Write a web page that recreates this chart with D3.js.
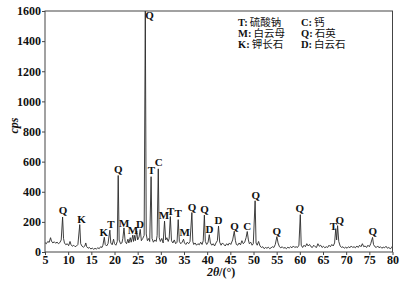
<!DOCTYPE html>
<html>
<head>
<meta charset="utf-8">
<script src="https://cdn.jsdelivr.net/npm/d3@7"></script>
<style>
  html, body { margin: 0; padding: 0; background: #fff; }
  svg { display: block; }
</style>
</head>
<body>
<script>
// XRD pattern
const twoTheta = [5.0,5.3,5.6,5.9,6.2,6.4,6.7,7.0,7.3,7.6,7.9,8.2,8.5,8.8,9.0,9.2,9.5,9.8,10.1,10.4,10.6,10.9,11.2,11.5,11.8,12.1,12.5,12.7,13.0,13.3,13.6,13.8,14.0,14.3,14.6,14.9,15.2,15.5,15.8,16.1,16.4,16.7,17.0,17.3,17.5,17.8,18.0,18.3,18.6,19.0,19.2,19.5,19.8,20.0,20.3,20.6,20.8,21.0,21.3,21.6,21.8,22.05,22.3,22.6,22.9,23.1,23.4,23.6,23.95,24.1,24.3,24.5,24.8,25.0,25.3,25.55,25.8,26.1,26.4,26.65,26.85,27.1,27.4,27.6,27.9,28.1,28.4,28.7,29.0,29.2,29.45,29.65,29.9,30.2,30.5,30.8,31.05,31.3,31.6,31.8,32.05,32.3,32.6,32.9,33.2,33.5,33.75,34.0,34.3,34.6,34.9,35.1,35.4,35.7,36.0,36.3,36.7,36.9,37.1,37.4,37.7,38.0,38.3,38.6,38.9,39.15,39.4,39.6,39.9,40.2,40.45,40.7,41.0,41.3,41.6,41.9,42.2,42.45,42.7,43.0,43.3,43.6,43.9,44.2,44.5,44.8,45.1,45.5,45.85,46.1,46.3,46.6,46.9,47.2,47.5,47.8,48.1,48.4,48.65,48.9,49.1,49.4,49.7,49.95,50.35,50.55,50.8,51.1,51.4,51.7,52.0,52.3,52.6,52.9,53.2,53.5,53.8,54.1,54.4,54.7,55.05,55.3,55.6,55.9,56.2,56.5,56.8,57.1,57.4,57.7,58.0,58.3,58.6,58.9,59.2,59.5,59.8,60.1,60.3,60.6,60.9,61.2,61.5,61.8,62.1,62.4,62.7,63.0,63.3,63.6,63.9,64.2,64.5,64.8,65.1,65.4,65.7,66.0,66.3,66.6,66.9,67.2,67.5,67.75,67.95,68.15,68.4,68.7,69.0,69.3,69.6,69.9,70.2,70.5,70.8,71.1,71.4,71.7,72.0,72.3,72.6,72.9,73.2,73.5,73.8,74.1,74.4,74.7,75.0,75.3,75.7,75.9,76.2,76.5,76.8,77.1,77.4,77.7,78.0,78.3,78.6,78.9,79.2,79.5,79.8,80.0];
const cps = [62,55,70,64,95,72,60,68,58,66,55,62,80,232,90,60,48,55,42,70,50,38,45,35,40,50,182,55,38,32,40,60,35,25,30,20,26,18,24,20,28,22,35,30,45,98,50,40,55,145,60,48,85,55,45,70,508,80,55,60,90,160,70,55,85,60,95,65,112,70,110,75,140,80,100,150,75,90,110,1600,120,75,90,70,500,90,65,80,70,110,552,95,70,90,60,205,80,95,70,90,235,75,60,80,55,65,215,70,55,65,85,60,50,65,55,70,262,70,50,60,45,55,48,65,50,75,245,70,50,65,115,60,45,55,40,60,75,172,65,45,60,50,40,55,45,60,50,80,138,75,50,45,60,48,75,55,65,95,136,80,55,65,45,55,340,60,45,70,40,30,35,22,30,25,32,22,28,35,30,50,102,60,35,28,35,25,30,22,32,26,35,28,40,30,35,30,45,248,45,30,45,35,55,40,50,35,30,45,35,30,55,38,45,30,38,28,35,30,45,35,50,40,60,155,80,175,70,40,30,35,25,32,25,35,28,40,30,35,28,40,30,45,35,55,35,40,30,45,35,55,97,50,35,30,40,28,35,25,32,28,38,25,30,22,28,40];

// peak labels: phase letter, label centre (2θ), label baseline (cps)
const peakLetters = ['Q','K','K','T','Q','M','M','D','Q','T','C','M','T','T','M','Q','Q','D','D','Q','C','Q','Q','Q','T','Q','Q'];
const peakAt      = [8.9,12.9,17.7,19.25,20.8,22.1,24.0,25.5,27.55,27.95,29.55,30.65,32.15,33.75,35.15,36.75,39.45,40.5,42.45,45.9,48.65,50.5,55.05,60.0,67.25,68.6,75.75];
const peakLabelY  = [250,193,106,158,525,168,118,159,1545,518,572,219,246,232,103,272,256,126,186,149,148,352,116,266,143,189,110];

// legend
const legendKeys  = ['T:','C:','M:','Q:','K:','D:'];
const legendNames = ['硫酸钠','钙','白云母','石英','钾长石','白云石'];

const xTicks = [5,10,15,20,25,30,35,40,45,50,55,60,65,70,75,80];
const yTicks = [0,200,400,600,800,1000,1200,1400,1600];

const width = 417, height = 283;
const margin = {top: 11, right: 24.5, bottom: 31, left: 45};
const visWidth = width - margin.left - margin.right;
const visHeight = height - margin.top - margin.bottom;

const serif = "'Liberation Serif', 'Times New Roman', serif";
const cjk = "'Noto Sans CJK SC', sans-serif";

const svg = d3.select('body').append('svg')
  .attr('width', width)
  .attr('height', height);

const x = d3.scaleLinear().domain([5, 80]).range([0, visWidth]);
const y = d3.scaleLinear().domain([0, 1600]).range([visHeight, 0]);

const g = svg.append('g')
  .attr('transform', `translate(${margin.left}, ${margin.top})`);

g.append('clipPath').attr('id', 'plotclip')
  .append('rect').attr('width', visWidth).attr('height', visHeight);

// the pattern line
const pts = twoTheta.map((t, i) => [t, cps[i]]);
g.append('path')
  .datum(pts)
  .attr('clip-path', 'url(#plotclip)')
  .attr('fill', 'none')
  .attr('stroke', '#2a2a2a')
  .attr('stroke-width', 0.9)
  .attr('stroke-linejoin', 'round')
  .attr('d', d3.line().x(d => x(d[0])).y(d => y(d[1])));

// frame
g.append('rect')
  .attr('width', visWidth)
  .attr('height', visHeight)
  .attr('fill', 'none')
  .attr('stroke', '#444')
  .attr('stroke-width', 1);

// axes
const xAxis = d3.axisBottom(x).tickValues(xTicks).tickSize(3).tickPadding(0).tickFormat(d3.format('d'));
const yAxis = d3.axisLeft(y).tickValues(yTicks).tickSize(3).tickPadding(1).tickFormat(d3.format('d'));

g.append('g')
  .attr('transform', `translate(0, ${visHeight})`)
  .call(xAxis)
  .call(a => a.select('.domain').remove())
  .call(a => a.selectAll('line').attr('stroke', '#444'))
  .call(a => a.selectAll('text')
    .attr('font-family', serif).attr('font-weight', 'bold')
    .attr('font-size', 12).attr('fill', '#111'));

g.append('g')
  .call(yAxis)
  .call(a => a.select('.domain').remove())
  .call(a => a.selectAll('line').attr('stroke', '#444'))
  .call(a => a.selectAll('text')
    .attr('font-family', serif).attr('font-weight', 'bold')
    .attr('font-size', 12).attr('fill', '#111'));

// axis titles
svg.append('text')
  .attr('transform', `translate(18, ${margin.top + y(800) - 6}) rotate(-90)`)
  .attr('text-anchor', 'middle')
  .attr('font-family', serif)
  .attr('font-style', 'italic')
  .attr('font-weight', 'bold')
  .attr('font-size', 12)
  .attr('fill', '#111')
  .text('cps');

const xt = svg.append('text')
  .attr('x', margin.left + x(43))
  .attr('y', 276)
  .attr('text-anchor', 'middle')
  .attr('font-family', serif)
  .attr('font-weight', 'bold')
  .attr('font-size', 12)
  .attr('fill', '#111');
xt.append('tspan').attr('font-style', 'italic').text('2θ');
xt.append('tspan').text('/(°)');

// peak labels
g.selectAll('.peak').data(peakLetters).join('text')
  .attr('class', 'peak')
  .attr('x', (d, i) => x(peakAt[i]))
  .attr('y', (d, i) => y(peakLabelY[i]))
  .attr('text-anchor', 'middle')
  .attr('font-family', serif)
  .attr('font-weight', 'bold')
  .attr('font-size', 11)
  .attr('fill', '#111')
  .text(d => d);

// legend, two columns
const legend = g.selectAll('.leg').data(legendKeys).join('text')
  .attr('class', 'leg')
  .attr('x', (d, i) => i % 2 === 0 ? 193 : 256)
  .attr('y', (d, i) => 14.5 + Math.floor(i / 2) * 11.3)
  .attr('font-size', 10.5)
  .attr('fill', '#111');
legend.append('tspan')
  .attr('font-family', serif)
  .attr('font-weight', 'bold')
  .text(d => d);
legend.append('tspan')
  .attr('font-family', cjk)
  .attr('dx', 2)
  .text((d, i) => legendNames[i]);
</script>
</body>
</html>
